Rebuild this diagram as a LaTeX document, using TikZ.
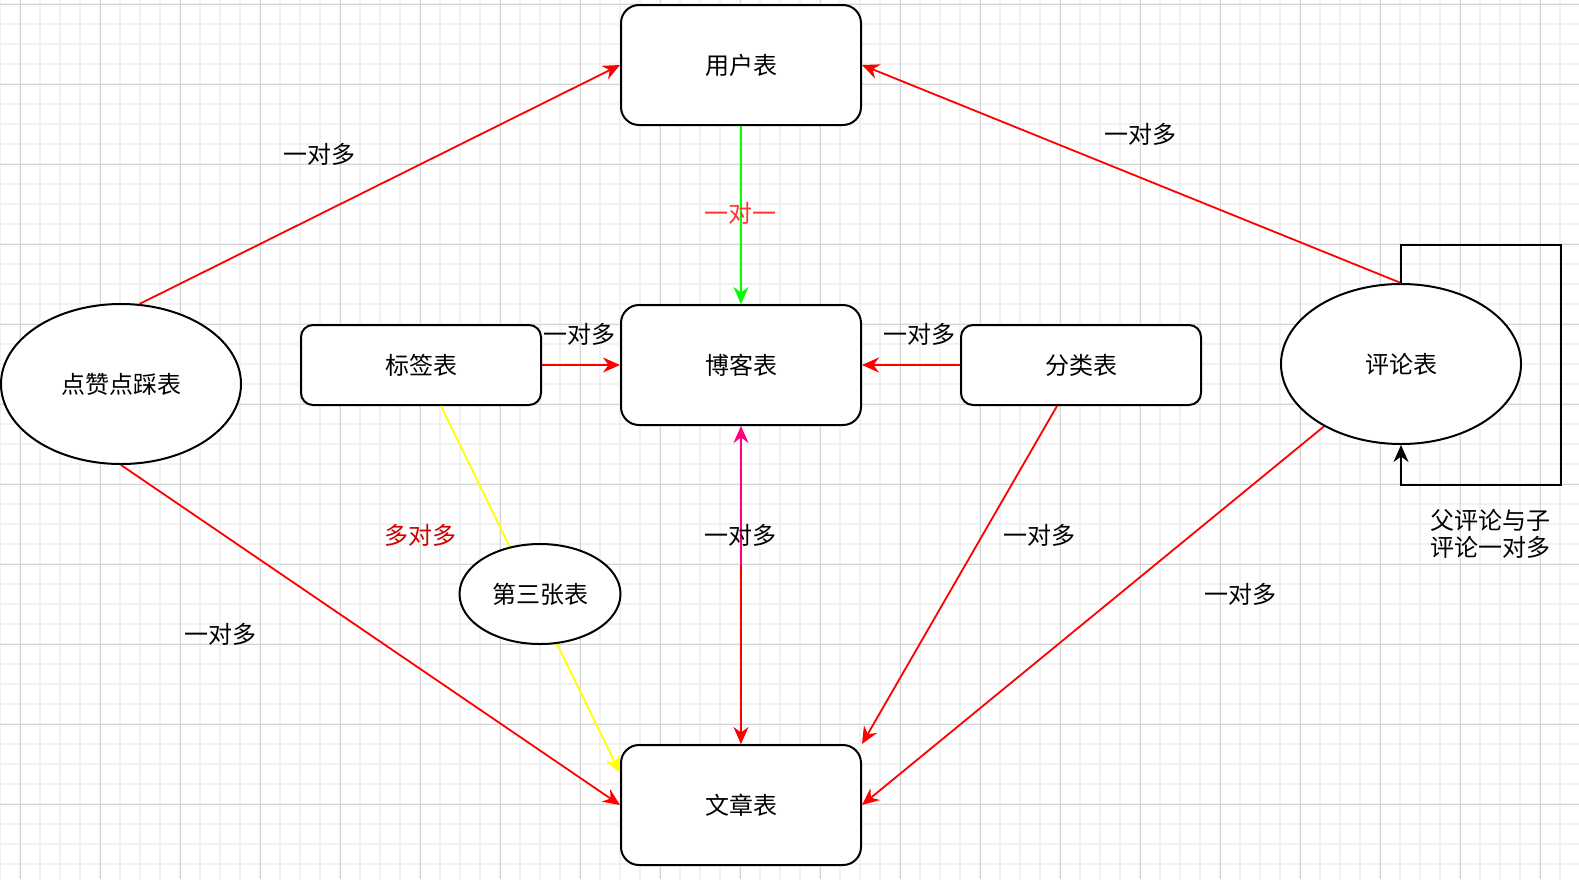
\documentclass[tikz,border=0pt]{standalone}
\usepackage{fontspec}
\usepackage{tikz}
\usetikzlibrary{positioning, arrows.meta, shapes.geometric}
\newfontfamily\cjk{Noto Sans CJK SC}
\definecolor{relred}{RGB}{255,0,0}
\definecolor{relgreen}{RGB}{0,255,0}
\definecolor{relyellow}{RGB}{255,255,0}
\definecolor{relpink}{RGB}{255,0,128}
\definecolor{onered}{RGB}{255,51,51}
\definecolor{manyred}{RGB}{204,0,0}
\definecolor{gridminor}{RGB}{241,241,241}
\definecolor{gridmajor}{RGB}{212,212,212}

\begin{document}
\begin{tikzpicture}[
  x=1pt, y=-1pt,
  font=\cjk\fontsize{24pt}{27pt}\selectfont,
  tbl/.style={draw, line width=2pt, fill=white, rounded corners=18pt, minimum width=240pt, minimum height=120pt},
  tblsmall/.style={tbl, rounded corners=12pt, minimum height=80pt},
  ell/.style={draw, ellipse, line width=2pt, fill=white, inner sep=0pt, minimum width=240pt, minimum height=160pt},
  rel/.style={-{Stealth[length=17pt, width=15pt, inset=5.5pt]}, line width=1.8pt, relred},
  lbl/.style={inner sep=0pt}
]
  \useasboundingbox (0,0) rectangle (1579,879);
  \fill[white] (0,0) rectangle (1579,879);
  % grid
  \foreach \x in {0,20,...,1560} \draw[gridminor, line width=1.2pt] (\x,0) -- (\x,879);
  \foreach \y in {4,24,...,864} \draw[gridminor, line width=1.2pt] (0,\y) -- (1579,\y);
  \foreach \x in {20,100,...,1540} \draw[gridmajor, line width=1pt] (\x,0) -- (\x,879);
  \foreach \y in {4,84,...,844} \draw[gridmajor, line width=1pt] (0,\y) -- (1579,\y);

  % tables
  \node[tbl] (user) at (741,65) {用户表};
  \node[tbl, below=178pt of user] (blog) {博客表};
  \node[tbl, below=318pt of blog] (article) {文章表};
  \node[tblsmall, left=78pt of blog] (tag) {标签表};
  \node[tblsmall, right=98pt of blog] (cat) {分类表};
  \node[ell] (like) at (121,384) {点赞点踩表};
  \node[ell] (com) at (1401,364) {评论表};

  % relations
  \draw[rel] (like.77) -- (user.west);
  \draw[rel] (like.south) -- (article.west);
  \draw[rel] (com.north) -- (user.east);
  \draw[rel] (com.219) -- (article.east);
  \draw[rel, relgreen] (user.south) -- (blog.north);
  \draw[rel] (tag.east) -- (blog.west);
  \draw[rel] (cat.west) -- (blog.east);
  \draw[rel] ([xshift=-24pt]cat.south) -- (article.north east);
  \coordinate (mid) at (741,565);
  \draw[rel] (mid) -- (article.north);
  \draw[rel, relpink] (mid) -- (blog.south);
  \draw[rel, relyellow] ([xshift=20pt]tag.south) -- ([yshift=32pt]article.west);
  \node[ell, minimum width=161pt, minimum height=100pt] (third) at (540,594) {第三张表};
  \draw[rel, black] (com.north) -- (1401,245) -- (1561,245) -- (1561,485) -- (1401,485) -- (com.south);

  % labels
  \node[lbl] (l1) at (319,154) {一对多};
  \node[lbl] (l2) at (1140,134) {一对多};
  \node[lbl, onered] (l3) at (740,213) {一对一};
  \node[lbl] (l4) at (579,334) {一对多};
  \node[lbl] (l5) at (919,334) {一对多};
  \node[lbl, manyred] (l6) at (420,535) {多对多};
  \node[lbl] (l7) at (740,535) {一对多};
  \node[lbl] (l8) at (1039,535) {一对多};
  \node[lbl] (l9) at (220,634) {一对多};
  \node[lbl] (l10) at (1240,594) {一对多};
  \node[lbl, align=center] (l11) at (1490,534) {父评论与子\\评论一对多};
\end{tikzpicture}
\end{document}
